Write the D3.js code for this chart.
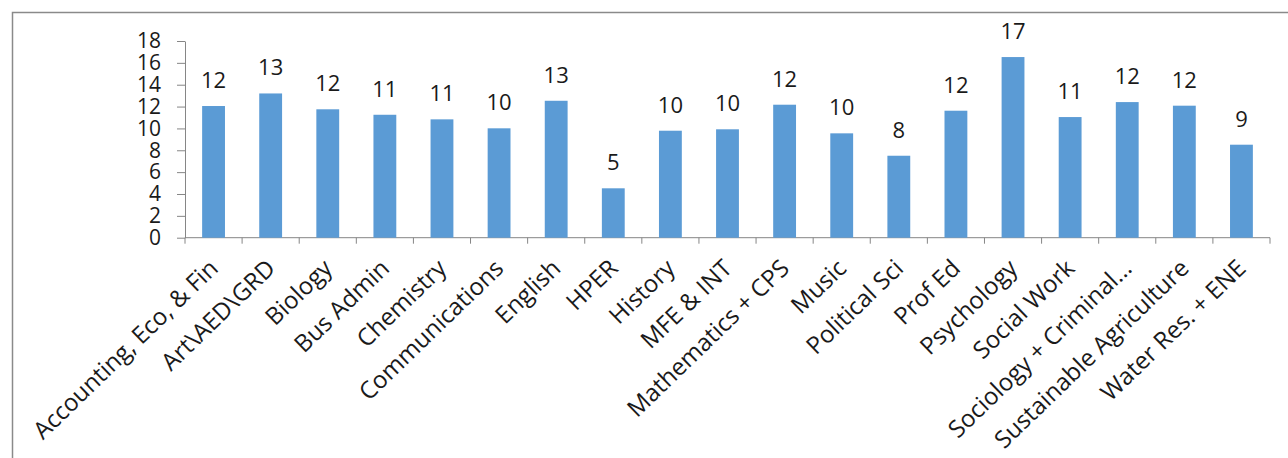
<!DOCTYPE html>
<html>
<head>
<meta charset="utf-8">
<script src="https://d3js.org/d3.v7.min.js"></script>
<style>
  body { margin: 0; background: #fff; }
  text { font-family: "Open Sans", sans-serif; fill: #1a1a1a; }
</style>
</head>
<body>
<div class="chart"></div>
<script>
var width = 1288;
var height = 458;

var departments = ["Accounting, Eco, & Fin", "Art\\AED\\GRD", "Biology", "Bus Admin", "Chemistry",
    "Communications", "English", "HPER", "History", "MFE & INT", "Mathematics + CPS", "Music",
    "Political Sci", "Prof Ed", "Psychology", "Social Work", "Sociology + Criminal...",
    "Sustainable Agriculture", "Water Res. + ENE"];

var counts = [12.05, 13.2, 11.75, 11.25, 10.83, 10.01, 12.53, 4.52, 9.79, 9.92, 12.17, 9.55,
    7.5, 11.62, 16.53, 11.04, 12.41, 12.08, 8.51];

var yTicks = [0, 2, 4, 6, 8, 10, 12, 14, 16, 18];

var data = departments.map(function(d, i){
    return {name: d, value: counts[i]};
});

var svg = d3.select(".chart")
    .append("svg")
    .attr("width", width)
    .attr("height", height);

// outer frame of the chart area
svg.append("rect")
    .attr("x", 12.5)
    .attr("y", 12.5)
    .attr("width", width)
    .attr("height", height)
    .attr("fill", "none")
    .attr("stroke", "#8a8a8a")
    .attr("stroke-width", 1.5);

var x = d3.scaleBand()
    .domain(departments)
    .range([185, 1270])
    .paddingInner(0.6)
    .paddingOuter(0.3);

var y = d3.scaleLinear()
    .domain([0, 18])
    .range([237.7, 41]);

var axisColor = "#868686";

var yAxis = svg.append("g")
    .attr("transform", "translate(185,0)")
    .call(d3.axisLeft(y).tickValues(yTicks).tickSize(8).tickSizeOuter(0).tickPadding(16));

yAxis.select(".domain").attr("stroke", axisColor);
yAxis.selectAll(".tick line").attr("stroke", axisColor);
yAxis.selectAll(".tick text")
    .attr("font-size", "21px")
    .attr("font-family", "'Open Sans', sans-serif")
    .attr("fill", "#1a1a1a");

// x axis line and boundary ticks
svg.append("line")
    .attr("x1", x.range()[0])
    .attr("x2", x.range()[1])
    .attr("y1", y(0))
    .attr("y2", y(0))
    .attr("stroke", axisColor);

var boundaries = d3.range(departments.length + 1).map(function(i){
    return x.range()[0] + i * x.step();
});

svg.selectAll(".xtick")
    .data(boundaries)
    .enter()
    .append("line")
    .attr("class", "xtick")
    .attr("x1", d => d)
    .attr("x2", d => d)
    .attr("y1", y(0))
    .attr("y2", y(0) + 6)
    .attr("stroke", axisColor);

svg.selectAll(".bar")
    .data(data)
    .enter()
    .append("rect")
    .attr("class", "bar")
    .attr("x", d => x(d.name))
    .attr("y", d => y(d.value))
    .attr("width", x.bandwidth())
    .attr("height", d => y(0) - y(d.value))
    .attr("fill", "#5b9bd5");

svg.selectAll(".value")
    .data(data)
    .enter()
    .append("text")
    .attr("class", "value")
    .attr("x", d => x(d.name) + x.bandwidth() / 2)
    .attr("y", d => y(d.value) - 18)
    .attr("text-anchor", "middle")
    .attr("font-size", "22px")
    .text(d => Math.round(d.value));

svg.selectAll(".xlabel")
    .data(data)
    .enter()
    .append("text")
    .attr("class", "xlabel")
    .attr("text-anchor", "end")
    .attr("font-size", "24px")
    .attr("transform", function(d){
        var cx = x(d.name) + x.bandwidth() / 2 + 6;
        return "translate(" + cx + ",270) rotate(-44)";
    })
    .text(d => d.name);
</script>
</body>
</html>
